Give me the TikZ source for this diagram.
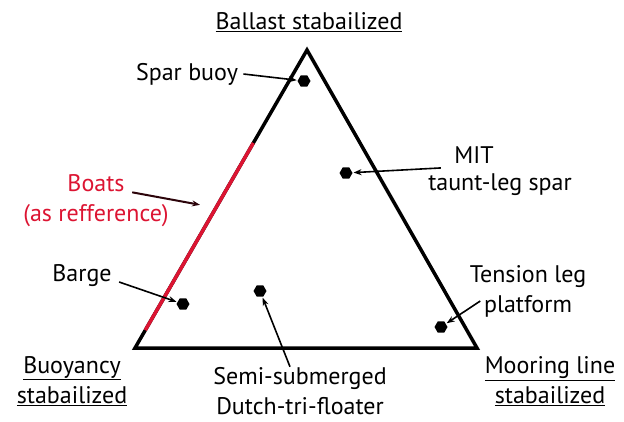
\documentclass[tikz,border=0pt]{standalone}
\usepackage{fontspec}
\setmainfont{PT Sans}
\usetikzlibrary{calc,shapes.geometric,arrows.meta}
\definecolor{boatred}{RGB}{220,20,50}
\tikzset{
  dot/.style={regular polygon, regular polygon sides=6, fill=black, inner sep=0pt, minimum size=13pt},
  lbl/.style={align=center, font=\fontsize{24}{30}\selectfont},
  pointer/.style={-{Stealth[length=8pt,width=6pt]}, line width=1.6pt, shorten >=1pt},
}

\begin{document}
\begin{tikzpicture}[x=1pt, y=-1pt]
    \useasboundingbox (0,0) rectangle (624,421);
    % triangle corners
    \coordinate (top) at (307,50);
    \coordinate (bl) at (135,348);
    \coordinate (br) at (477,348);
    \draw[line width=3.5pt, line join=miter] (top) -- (bl) -- (br) -- cycle;
    \draw[boatred, line width=3.5pt] ($(bl)!0.06!(top)$) -- ($(bl)!0.688!(top)$);

    % corner labels
    \node[lbl] (ballast) at (309,22) {\underline{Ballast stabailized}};
    \node[lbl] (buoyancy) at (72,381) {\underline{Buoyancy}\\\underline{stabailized}};
    \node[lbl] (mooring) at (550,381) {\underline{Mooring line}\\\underline{stabailized}};

    % concepts
    \node[dot] (spar) at (304,81) {};
    \node[dot] (mit) at (346,173) {};
    \node[dot] (barge) at (183,304) {};
    \node[dot] (semi) at (260,291) {};
    \node[dot] (tlp) at (441,327) {};

    \node[lbl] (sparlbl) at (187,74) {Spar buoy};
    \node[lbl] (mitlbl) at (474,155) {MIT};
    \node[lbl] (mitlbl2) at (500,185) {taunt-leg spar};
    \node[lbl] (bargelbl) at (82,276) {Barge};
    \node[lbl] (tlplbl) at (528,291) {Tension leg\\platform};
    \node[lbl] (semilbl) at (300,391) {Semi-submerged\\Dutch-tri-floater};
    \node[lbl, text=boatred] (boats) at (96,201) {Boats\\(as refference)};
    \coordinate (boattip) at (201,205);

    \draw[pointer] ([xshift=2pt]sparlbl.east) -- (spar);
    \draw[pointer] ([xshift=-10pt,yshift=-1pt]mitlbl.south west) -- (mit);
    \draw[pointer] ([xshift=4pt,yshift=-6pt]bargelbl.east) -- (barge);
    \draw[pointer] ([xshift=14pt,yshift=-10pt]tlplbl.west) -- (tlp);
    \draw[pointer] ([xshift=-10pt,yshift=-3pt]semilbl.north) -- (semi);
    \draw[pointer, line width=2pt, black!80!boatred] ([xshift=-40pt,yshift=-21pt]boats.north east) -- (boattip);
\end{tikzpicture}
\end{document}
